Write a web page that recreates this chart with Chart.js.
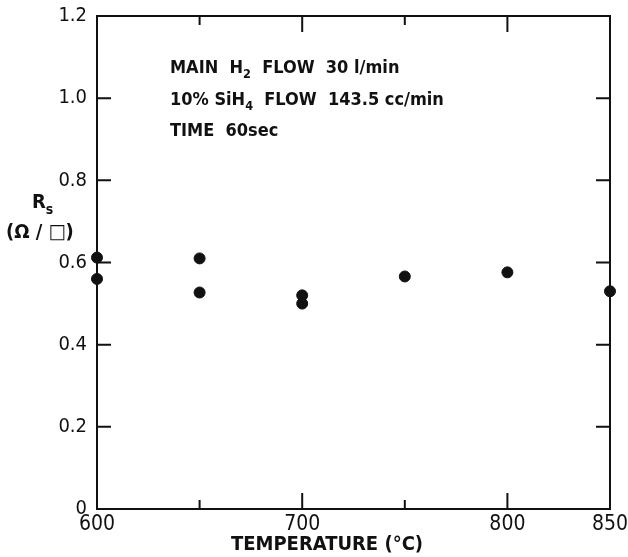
<!DOCTYPE html>
<html>
<head>
<meta charset="utf-8">
<script src="https://cdn.jsdelivr.net/npm/chart.js@4.4.1/dist/chart.umd.min.js"></script>
<style>
  html, body { margin: 0; padding: 0; background: #fff; }
  #wrap { width: 628px; height: 557px; }
</style>
</head>
<body>
<div id="wrap"><canvas id="chart"></canvas></div>
<script>
// temperature (°C) and sheet resistance Rs (ohm/sq)
const temps = [600, 600, 650, 650, 700, 700, 750, 800, 850];
const rs = [0.612, 0.56, 0.61, 0.527, 0.52, 0.50, 0.566, 0.576, 0.53];

const xTicks = [600, 650, 700, 750, 800, 850];
const xLabels = [600, 700, 800, 850];
const yTicks = [0, 0.2, 0.4, 0.6, 0.8, 1.0, 1.2];

const FONT = '"DejaVu Sans Condensed", "Liberation Sans Narrow", "DejaVu Sans", sans-serif';

// draw text with subscript pieces: [text, 'n'|'sub']
function drawRich(ctx, x, y, parts, size) {
    let cx = x;
    parts.forEach(([t, kind]) => {
        const s = kind === 'sub' ? size * 0.7 : size;
        ctx.font = 'bold ' + s + 'px ' + FONT;
        const dy = kind === 'sub' ? size * 0.35 : 0;
        ctx.fillText(t, cx, y + dy);
        cx += ctx.measureText(t).width;
    });
}

const frame = {
    id: 'frame',
    beforeDatasetsDraw(chart) {
        const { ctx, chartArea: a, scales: { x, y } } = chart;
        ctx.save();
        ctx.strokeStyle = '#111';
        ctx.lineWidth = 2;
        ctx.strokeRect(a.left, a.top, a.right - a.left, a.bottom - a.top);
        ctx.beginPath();
        yTicks.slice(1, -1).forEach(v => {
            const py = y.getPixelForValue(v);
            ctx.moveTo(a.left, py); ctx.lineTo(a.left + 14, py);
            ctx.moveTo(a.right, py); ctx.lineTo(a.right - 14, py);
        });
        xTicks.slice(1, -1).forEach(v => {
            const px = x.getPixelForValue(v);
            const len = xLabels.includes(v) ? 16 : 9;
            ctx.moveTo(px, a.bottom); ctx.lineTo(px, a.bottom - len);
            ctx.moveTo(px, a.top); ctx.lineTo(px, a.top + len);
        });
        ctx.stroke();
        ctx.restore();
    },
    afterDraw(chart) {
        const { ctx } = chart;
        ctx.save();
        ctx.fillStyle = '#111';
        ctx.textBaseline = 'middle';
        ctx.textAlign = 'left';
        drawRich(ctx, 170, 68, [['MAIN  H', 'n'], ['2', 'sub'], ['  FLOW  30 l/min', 'n']], 18);
        drawRich(ctx, 170, 100, [['10% SiH', 'n'], ['4', 'sub'], ['  FLOW  143.5 cc/min', 'n']], 18);
        drawRich(ctx, 170, 131, [['TIME  60sec', 'n']], 18);
        drawRich(ctx, 32, 203, [['R', 'n'], ['s', 'sub']], 20);
        ctx.font = 'bold 20px ' + FONT;
        ctx.fillText('(Ω / □)', 6, 233);
        ctx.textAlign = 'center';
        ctx.fillText('TEMPERATURE (°C)', 327, 545);
        ctx.restore();
    }
};

new Chart(document.getElementById('chart'), {
    type: 'scatter',
    data: {
        datasets: [{
            data: temps.map((t, i) => ({ x: t, y: rs[i] })),
            backgroundColor: '#111',
            borderColor: '#111',
            pointRadius: 5.5,
            pointHoverRadius: 5.5,
            clip: false
        }]
    },
    options: {
        responsive: true,
        maintainAspectRatio: false,
        animation: false,
        layout: { padding: { top: 16, right: 18, left: 0, bottom: 0 } },
        plugins: { legend: { display: false }, tooltip: { enabled: false } },
        scales: {
            x: {
                type: 'linear', min: 600, max: 850,
                afterBuildTicks: s => { s.ticks = xTicks.map(v => ({ value: v })); },
                afterFit: s => { s.height = 48; s.paddingRight = 0; s.paddingLeft = 0; },
                grid: { display: false, drawTicks: false },
                border: { display: false },
                ticks: {
                    padding: 3, color: '#111', maxRotation: 0, autoSkip: false,
                    font: { family: FONT, size: 21 },
                    callback: v => xLabels.includes(v) ? String(v) : ''
                }
            },
            y: {
                type: 'linear', min: 0, max: 1.2,
                afterBuildTicks: s => { s.ticks = yTicks.map(v => ({ value: v })); },
                afterFit: s => { s.width = 97; s.paddingTop = 0; s.paddingBottom = 0; },
                grid: { display: false, drawTicks: false },
                border: { display: false },
                ticks: {
                    padding: 10, color: '#111', autoSkip: false,
                    font: { family: FONT, size: 20 },
                    callback: v => v === 0 ? '0' : v.toFixed(1)
                }
            }
        }
    },
    plugins: [frame]
});
</script>
</body>
</html>
